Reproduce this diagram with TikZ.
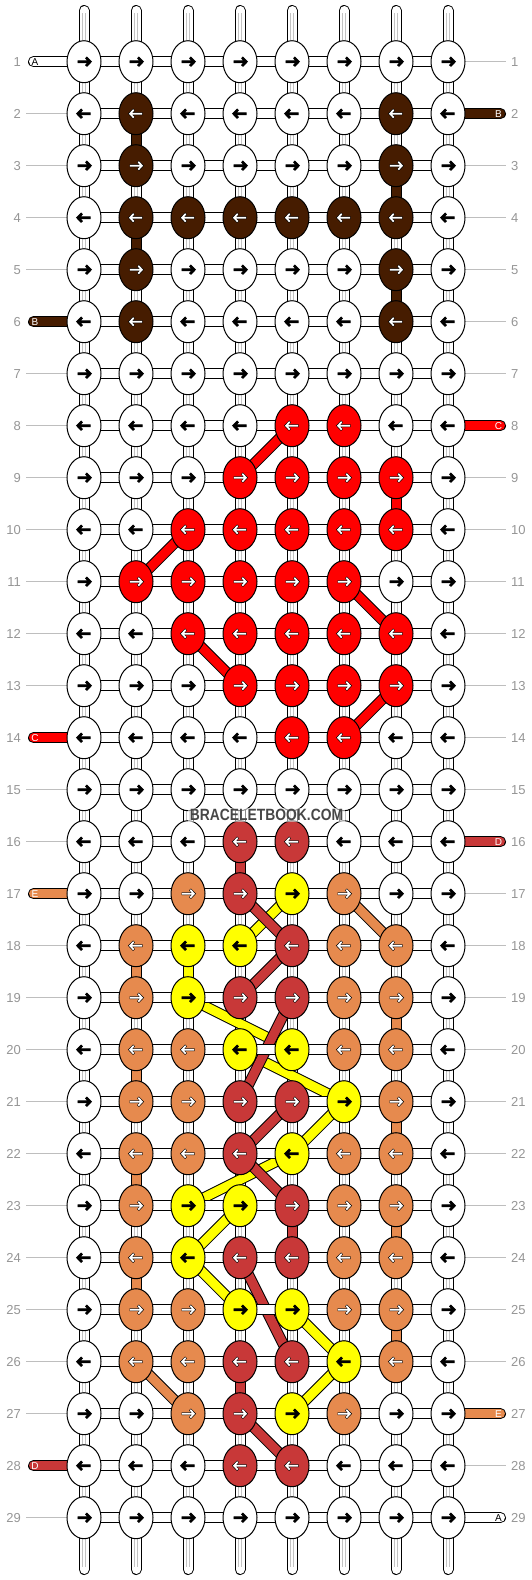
\documentclass[tikz,border=0pt]{standalone}
\usepackage{fontspec}
\setmainfont{Liberation Sans}
\usetikzlibrary{shapes.geometric}
\pgfdeclarelayer{vconn}
\pgfdeclarelayer{bands}
\pgfdeclarelayer{hconn}
\pgfdeclarelayer{front}
\pgfsetlayers{vconn,bands,hconn,main,front}
\definecolor{kW}{RGB}{255,255,255}
\definecolor{kN}{RGB}{70,28,0}
\definecolor{kR}{RGB}{255,0,0}
\definecolor{kD}{RGB}{200,56,56}
\definecolor{kO}{RGB}{230,138,78}
\definecolor{kY}{RGB}{255,255,0}
\colorlet{arW}{black}
\colorlet{arY}{black}
\colorlet{arN}{white}
\colorlet{arR}{white}
\colorlet{arD}{white}
\colorlet{arO}{white}
\definecolor{numgray}{RGB}{150,150,150}
\definecolor{linegray}{RGB}{190,190,190}
\definecolor{stripegray}{RGB}{195,195,195}
\begin{document}
\begin{tikzpicture}[x=1pt,y=-1pt,
  knot/.style={ellipse, draw=black, line width=1pt, minimum width=34pt, minimum height=42pt, inner sep=0pt},
  outerline/.style={line width=11pt, draw=black, line cap=butt},
  innerline/.style={line width=9pt, line cap=butt},
  stripe/.style={line width=0.9pt, draw=stripegray},
  arrout/.style={line width=2.6pt, draw=black, line join=miter, line cap=butt},
  arrin/.style={line width=1.7pt, line join=miter, line cap=butt},
  numl/.style={anchor=east, inner sep=0pt, text=numgray, font=\fontsize{13}{13}\selectfont},
  numr/.style={anchor=west, inner sep=0pt, text=numgray, font=\fontsize{13}{13}\selectfont},
  rowline/.style={draw=linegray, line width=1pt},
  stublbl/.style={inner sep=0pt, font=\fontsize{10}{10}\selectfont},
  logo/.style={fill=white, fill opacity=0.55, text opacity=1, inner sep=1.5pt, text=black!72, font=\bfseries\fontsize{16.3}{16}\selectfont}
]
\useasboundingbox (0,0) rectangle (532,1580);

% knots
\foreach \r/\cl in {
1/{W,W,W,W,W,W,W,W},
2/{W,N,W,W,W,W,N,W},
3/{W,N,W,W,W,W,N,W},
4/{W,N,N,N,N,N,N,W},
5/{W,N,W,W,W,W,N,W},
6/{W,N,W,W,W,W,N,W},
7/{W,W,W,W,W,W,W,W},
8/{W,W,W,W,R,R,W,W},
9/{W,W,W,R,R,R,R,W},
10/{W,W,R,R,R,R,R,W},
11/{W,R,R,R,R,R,W,W},
12/{W,W,R,R,R,R,R,W},
13/{W,W,W,R,R,R,R,W},
14/{W,W,W,W,R,R,W,W},
15/{W,W,W,W,W,W,W,W},
16/{W,W,W,D,D,W,W,W},
17/{W,W,O,D,Y,O,W,W},
18/{W,O,Y,Y,D,O,O,W},
19/{W,O,Y,D,D,O,O,W},
20/{W,O,O,Y,Y,O,O,W},
21/{W,O,O,D,D,Y,O,W},
22/{W,O,O,D,Y,O,O,W},
23/{W,O,Y,Y,D,O,O,W},
24/{W,O,Y,D,D,O,O,W},
25/{W,O,O,Y,Y,O,O,W},
26/{W,O,O,D,D,Y,O,W},
27/{W,W,O,D,Y,O,W,W},
28/{W,W,W,D,D,W,W,W},
29/{W,W,W,W,W,W,W,W}}{
  \pgfmathsetmacro\dir{2*mod(\r,2)-1}
  \pgfmathsetmacro\yy{61.7+(\r-1)*52}
  \foreach \k [count=\c] in \cl {
    \pgfmathsetmacro\xx{84+(\c-1)*52}
    \node[knot, fill=k\k] (k-\r-\c) at (\xx,\yy) {};
    \begin{scope}[shift={(k-\r-\c.center)}, xscale=\dir]
      \draw[arrout] (-6.5,0) -- (6,0) (2,-4.3) -- (6.2,0) -- (2,4.3);
      \draw[arrin, draw=ar\k] (-6.1,0) -- (5.6,0) (2.3,-3.9) -- (5.9,0) -- (2.3,3.9);
    \end{scope}
  }
}

\begin{pgfonlayer}{vconn}
  \fill[white] (0,0) rectangle (532,1580);
  % row guide lines and numbers
  \foreach \r in {1,...,29}{
    \pgfmathsetmacro\yy{61.7+(\r-1)*52}
    \node[numl] (nl-\r) at (21,\yy) {\r};
    \node[numr] (nr-\r) at (511,\yy) {\r};
  }
  \foreach \r in {2,3,4,5,7,8,9,10,11,12,13,15,16,18,19,20,21,22,23,24,25,26,27,29}{
    \pgfmathsetmacro\yy{61.7+(\r-1)*52}
    \coordinate (gl-\r) at (26,\yy);
    \draw[rowline] (gl-\r) -- (k-\r-1.center);
  }
  \foreach \r in {1,3,4,5,6,7,9,10,11,12,13,14,15,17,18,19,20,21,22,23,24,25,26,28}{
    \pgfmathsetmacro\yy{61.7+(\r-1)*52}
    \coordinate (gr-\r) at (506,\yy);
    \draw[rowline] (k-\r-8.center) -- (gr-\r);
  }
  % top and bottom strands
  \foreach \c in {1,...,8}{
    \pgfmathsetmacro\xx{84+(\c-1)*52}
    \coordinate (top-\c) at (\xx,10.5);
    \coordinate (bot-\c) at (\xx,1569.5);
    \draw[outerline, line cap=round] (top-\c) -- (k-1-\c.center);
    \draw[innerline, line cap=round, draw=white] (top-\c) -- (k-1-\c.center);
    \draw[stripe] ([xshift=-1.5pt,yshift=-2.5pt]top-\c) -- ([xshift=-1.5pt]k-1-\c.center);
    \draw[stripe] ([xshift=1.5pt,yshift=-2.5pt]top-\c) -- ([xshift=1.5pt]k-1-\c.center);
    \draw[outerline, line cap=round] (k-29-\c.center) -- (bot-\c);
    \draw[innerline, line cap=round, draw=white] (k-29-\c.center) -- (bot-\c);
    \draw[stripe] ([xshift=-1.5pt]k-29-\c.center) -- ([xshift=-1.5pt,yshift=2.5pt]bot-\c);
    \draw[stripe] ([xshift=1.5pt]k-29-\c.center) -- ([xshift=1.5pt,yshift=2.5pt]bot-\c);
  }
  % vertical connectors (white with stripes)
  \foreach \r in {1,...,28}{
    \pgfmathtruncatemacro\rn{\r+1}
    \foreach \c in {1,...,8}{
      \draw[outerline] (k-\r-\c.center) -- (k-\rn-\c.center);
      \draw[innerline, draw=white] (k-\r-\c.center) -- (k-\rn-\c.center);
      \draw[stripe] ([xshift=-1.5pt]k-\r-\c.center) -- ([xshift=-1.5pt]k-\rn-\c.center);
      \draw[stripe] ([xshift=1.5pt]k-\r-\c.center) -- ([xshift=1.5pt]k-\rn-\c.center);
    }
  }
  % coloured vertical connectors
  \foreach \r/\c/\k in {2/2/N,4/2/N,3/7/N,5/7/N,9/7/R,16/4/D,26/4/D,23/5/D,
                        18/2/O,20/2/O,22/2/O,24/2/O,19/7/O,21/7/O,23/7/O,25/7/O,18/3/Y}{
    \pgfmathtruncatemacro\rn{\r+1}
    \draw[outerline] (k-\r-\c.center) -- (k-\rn-\c.center);
    \draw[innerline, draw=k\k] (k-\r-\c.center) -- (k-\rn-\c.center);
  }
\end{pgfonlayer}

\begin{pgfonlayer}{bands}
  \foreach \ra/\ca/\rb/\cb/\k in {
    17/6/18/7/O, 26/2/27/3/O,
    17/5/18/4/Y, 19/3/20/5/Y, 20/4/21/6/Y, 21/6/22/5/Y, 22/5/23/3/Y,
    23/4/24/3/Y, 24/3/25/4/Y, 25/5/26/6/Y, 26/6/27/5/Y,
    17/4/18/5/D, 18/5/19/4/D, 19/5/21/4/D, 21/5/22/4/D, 22/4/23/5/D,
    24/4/26/5/D, 27/4/28/5/D,
    8/5/9/4/R, 10/3/11/2/R, 11/6/12/7/R, 12/3/13/4/R, 13/7/14/6/R}{
    \draw[outerline] (k-\ra-\ca.center) -- (k-\rb-\cb.center);
    \draw[innerline, draw=k\k] (k-\ra-\ca.center) -- (k-\rb-\cb.center);
  }
\end{pgfonlayer}

\begin{pgfonlayer}{hconn}
  \foreach \r in {1,...,29}{
    \foreach \c in {1,...,7}{
      \pgfmathtruncatemacro\cn{\c+1}
      \draw[outerline] (k-\r-\c.center) -- (k-\r-\cn.center);
      \draw[innerline, draw=white] (k-\r-\c.center) -- (k-\r-\cn.center);
    }
  }
  % thread stubs, left side
  \foreach \r/\k/\lab/\tc in {1/W/A/black, 6/N/B/white, 14/R/C/white, 17/O/E/white, 28/D/D/white}{
    \pgfmathsetmacro\yy{61.7+(\r-1)*52}
    \coordinate (sl-\r) at (33.5,\yy);
    \draw[outerline, line cap=round] (sl-\r) -- (k-\r-1.center);
    \draw[innerline, line cap=round, draw=k\k] (sl-\r) -- (k-\r-1.center);
    \node[stublbl, text=\tc] (lbl-l-\r) at (35,\yy) {\lab};
  }
  % thread stubs, right side
  \foreach \r/\k/\lab/\tc in {2/N/B/white, 8/R/C/white, 16/D/D/white, 27/O/E/white, 29/W/A/black}{
    \pgfmathsetmacro\yy{61.7+(\r-1)*52}
    \coordinate (sr-\r) at (500.5,\yy);
    \draw[outerline, line cap=round] (k-\r-8.center) -- (sr-\r);
    \draw[innerline, line cap=round, draw=k\k] (k-\r-8.center) -- (sr-\r);
    \node[stublbl, text=\tc] (lbl-r-\r) at (498.5,\yy) {\lab};
  }
\end{pgfonlayer}

\begin{pgfonlayer}{front}
  \node[logo] (logo) at (266.5,815) {\scalebox{0.85}[1]{BRACELETBOOK.COM}};
\end{pgfonlayer}
\end{tikzpicture}
\end{document}
